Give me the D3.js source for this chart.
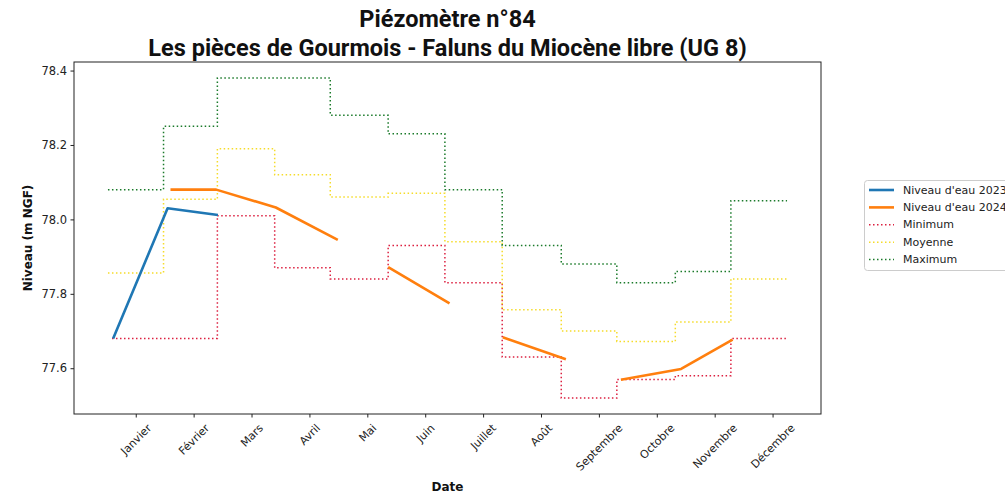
<!DOCTYPE html>
<html><head><meta charset="utf-8">
<script src="https://cdn.jsdelivr.net/npm/d3@7"></script>
<style>
html,body{margin:0;padding:0;background:#fff;}
svg{display:block;}
</style></head>
<body>
<svg id="chart" width="1005" height="499"></svg>
<script>
// ---- data ----
const titleLines = ["Piézomètre n°84", "Les pièces de Gourmois - Faluns du Miocène libre (UG 8)"];
const monthLabels = ["Janvier","Février","Mars","Avril","Mai","Juin","Juillet","Août","Septembre","Octobre","Novembre","Décembre"];
const monthTicks = [1,2,3,4,5,6,7,8,9,10,11,12];
// step edges (month units) for monthly statistics
const statEdges = [0.52, 1.48, 2.41, 3.40, 4.36, 5.36, 6.34, 7.33, 8.35, 9.31, 10.32, 11.28, 12.25];
const minEdges  = [0.59, 1.48, 2.41, 3.40, 4.36, 5.36, 6.34, 7.33, 8.35, 9.31, 10.32, 11.28, 12.25];
const minValues = [77.68, 77.68, 78.01, 77.87, 77.84, 77.93, 77.83, 77.63, 77.52, 77.57, 77.58, 77.68];
const moyValues = [77.856, 78.054, 78.19, 78.12, 78.06, 78.07, 77.94, 77.757, 77.70, 77.672, 77.724, 77.84];
const maxValues = [78.08, 78.25, 78.38, 78.38, 78.28, 78.23, 78.08, 77.93, 77.88, 77.83, 77.86, 78.05];
// water levels
const level1X = [0.61, 1.55, 2.42];
const level1Y = [77.68, 78.03, 78.012];
const level2X = [1.60, 2.39, 3.42, 4.49, 4.9, 5.36, 6.42, 6.9, 7.34, 8.43, 8.9, 9.38, 10.42, 11.31];
const level2Y = [78.08, 78.08, 78.032, 77.945, null, 77.872, 77.774, null, 77.683, 77.624, null, 77.569, 77.598, 77.677];
const legendLabels = ["Niveau d'eau 2023", "Niveau d'eau 2024", "Minimum", "Moyenne", "Maximum"];

// ---- layout ----
const svg = d3.select("#chart");
const L = 74, R = 821, T = 62, B = 414;
const tickFont = "'DejaVu Sans', sans-serif";

const allX = [...statEdges, ...minEdges, ...level1X, ...level2X];
const allY = [...minValues, ...moyValues, ...maxValues, ...level1Y, ...level2Y.filter(v => v != null)];
const [x0, x1] = d3.extent(allX), [y0, y1] = d3.extent(allY);
const px = (x1 - x0) * 0.05, py = (y1 - y0) * 0.05;
const x = d3.scaleLinear().domain([x0 - px, x1 + px]).range([L, R]);
const y = d3.scaleLinear().domain([y0 - py, y1 + py]).range([B, T]);

const colors = {l1: "#1f77b4", l2: "#ff7f0e", min: "#dc2040", moy: "#f5dc2a", max: "#1a7a2a"};

// clip
svg.append("defs").append("clipPath").attr("id", "clip")
  .append("rect").attr("x", L).attr("y", T).attr("width", R - L).attr("height", B - T);

const plot = svg.append("g").attr("clip-path", "url(#clip)");

function stepData(edges, vals) {
  const pts = vals.map((v, i) => [edges[i], v]);
  pts.push([edges[edges.length - 1], vals[vals.length - 1]]);
  return pts;
}
const stepLine = d3.line().x(d => x(d[0])).y(d => y(d[1])).curve(d3.curveStepAfter);
const dotted = "1.5,2.5";

plot.append("path").datum(stepData(minEdges, minValues)).attr("d", stepLine)
  .attr("fill", "none").attr("stroke", colors.min).attr("stroke-width", 1.5).attr("stroke-dasharray", dotted);
plot.append("path").datum(stepData(statEdges, moyValues)).attr("d", stepLine)
  .attr("fill", "none").attr("stroke", colors.moy).attr("stroke-width", 1.5).attr("stroke-dasharray", dotted);
plot.append("path").datum(stepData(statEdges, maxValues)).attr("d", stepLine)
  .attr("fill", "none").attr("stroke", colors.max).attr("stroke-width", 1.5).attr("stroke-dasharray", dotted);

const lvlLine = d3.line().defined(d => d[1] != null).x(d => x(d[0])).y(d => y(d[1]));
plot.append("path").datum(level1X.map((v, i) => [v, level1Y[i]])).attr("d", lvlLine)
  .attr("fill", "none").attr("stroke", colors.l1).attr("stroke-width", 2.6).attr("stroke-linejoin", "round").attr("stroke-linecap", "butt");
plot.append("path").datum(level2X.map((v, i) => [v, level2Y[i]])).attr("d", lvlLine)
  .attr("fill", "none").attr("stroke", colors.l2).attr("stroke-width", 2.6).attr("stroke-linejoin", "round").attr("stroke-linecap", "butt");

// frame
svg.append("rect").attr("x", L).attr("y", T).attr("width", R - L).attr("height", B - T)
  .attr("fill", "none").attr("stroke", "#222").attr("stroke-width", 1);

// y axis
const yAxis = svg.append("g").attr("transform", `translate(${L},0)`)
  .call(d3.axisLeft(y).tickValues([77.6, 77.8, 78.0, 78.2, 78.4]).tickFormat(d3.format(".1f")).tickSize(3.5).tickPadding(3.5));
yAxis.select(".domain").remove();
yAxis.selectAll("line").attr("stroke", "#222");
yAxis.selectAll("text").attr("font-family", tickFont).attr("font-size", 11.5).attr("fill", "#222");

// x axis
const xAxis = svg.append("g").attr("transform", `translate(0,${B})`)
  .call(d3.axisBottom(x).tickValues(monthTicks).tickFormat((d, i) => monthLabels[i]).tickSize(3.5).tickPadding(0));
xAxis.select(".domain").remove();
xAxis.selectAll("line").attr("stroke", "#222");
xAxis.selectAll("text").attr("font-family", tickFont).attr("font-size", 11).attr("fill", "#222")
  .attr("text-anchor", "middle").attr("dy", null).attr("dominant-baseline", "central")
  .each(function() {
    const w = this.getComputedTextLength();
    const h = 12;
    const off = 8 + (w + h) / (2 * Math.SQRT2);
    d3.select(this).attr("y", null).attr("transform", `translate(0,${off}) rotate(-45)`);
  });

// axis labels
svg.append("text").attr("x", (L + R) / 2).attr("y", 491).attr("text-anchor", "middle")
  .attr("font-family", tickFont).attr("font-weight", "bold").attr("font-size", 12).attr("fill", "#111").text("Date");
svg.append("text").attr("transform", `translate(32,${(T + B) / 2}) rotate(-90)`).attr("text-anchor", "middle")
  .attr("font-family", tickFont).attr("font-weight", "bold").attr("font-size", 12).attr("fill", "#111").text("Niveau (m NGF)");

// title
svg.append("text").attr("x", (L + R) / 2).attr("y", 27).attr("text-anchor", "middle")
  .attr("font-family", "Roboto, sans-serif").attr("font-weight", "bold").attr("font-size", 23.5).attr("fill", "#111").text(titleLines[0]);
svg.append("text").attr("x", (L + R) / 2).attr("y", 56).attr("text-anchor", "middle")
  .attr("font-family", "Roboto, sans-serif").attr("font-weight", "bold").attr("font-size", 23.5).attr("fill", "#111").text(titleLines[1]);

// legend
const lg = svg.append("g");
lg.append("rect").attr("x", 864.5).attr("y", 180.5).attr("width", 160).attr("height", 90).attr("rx", 3)
  .attr("fill", "#fff").attr("stroke", "#ccc").attr("stroke-width", 1);
const legendStyles = [
  {c: colors.l1, w: 2.6, dash: null},
  {c: colors.l2, w: 2.6, dash: null},
  {c: colors.min, w: 1.5, dash: dotted},
  {c: colors.moy, w: 1.5, dash: dotted},
  {c: colors.max, w: 1.5, dash: dotted}
];
legendLabels.forEach((lab, i) => {
  const yy = 190 + i * 17.4;
  lg.append("line").attr("x1", 869).attr("x2", 894).attr("y1", yy).attr("y2", yy)
    .attr("stroke", legendStyles[i].c).attr("stroke-width", legendStyles[i].w)
    .attr("stroke-dasharray", legendStyles[i].dash);
  lg.append("text").attr("x", 903).attr("y", yy).attr("dominant-baseline", "central")
    .attr("font-family", tickFont).attr("font-size", 11).attr("fill", "#222").text(lab);
});
</script>
</body></html>
